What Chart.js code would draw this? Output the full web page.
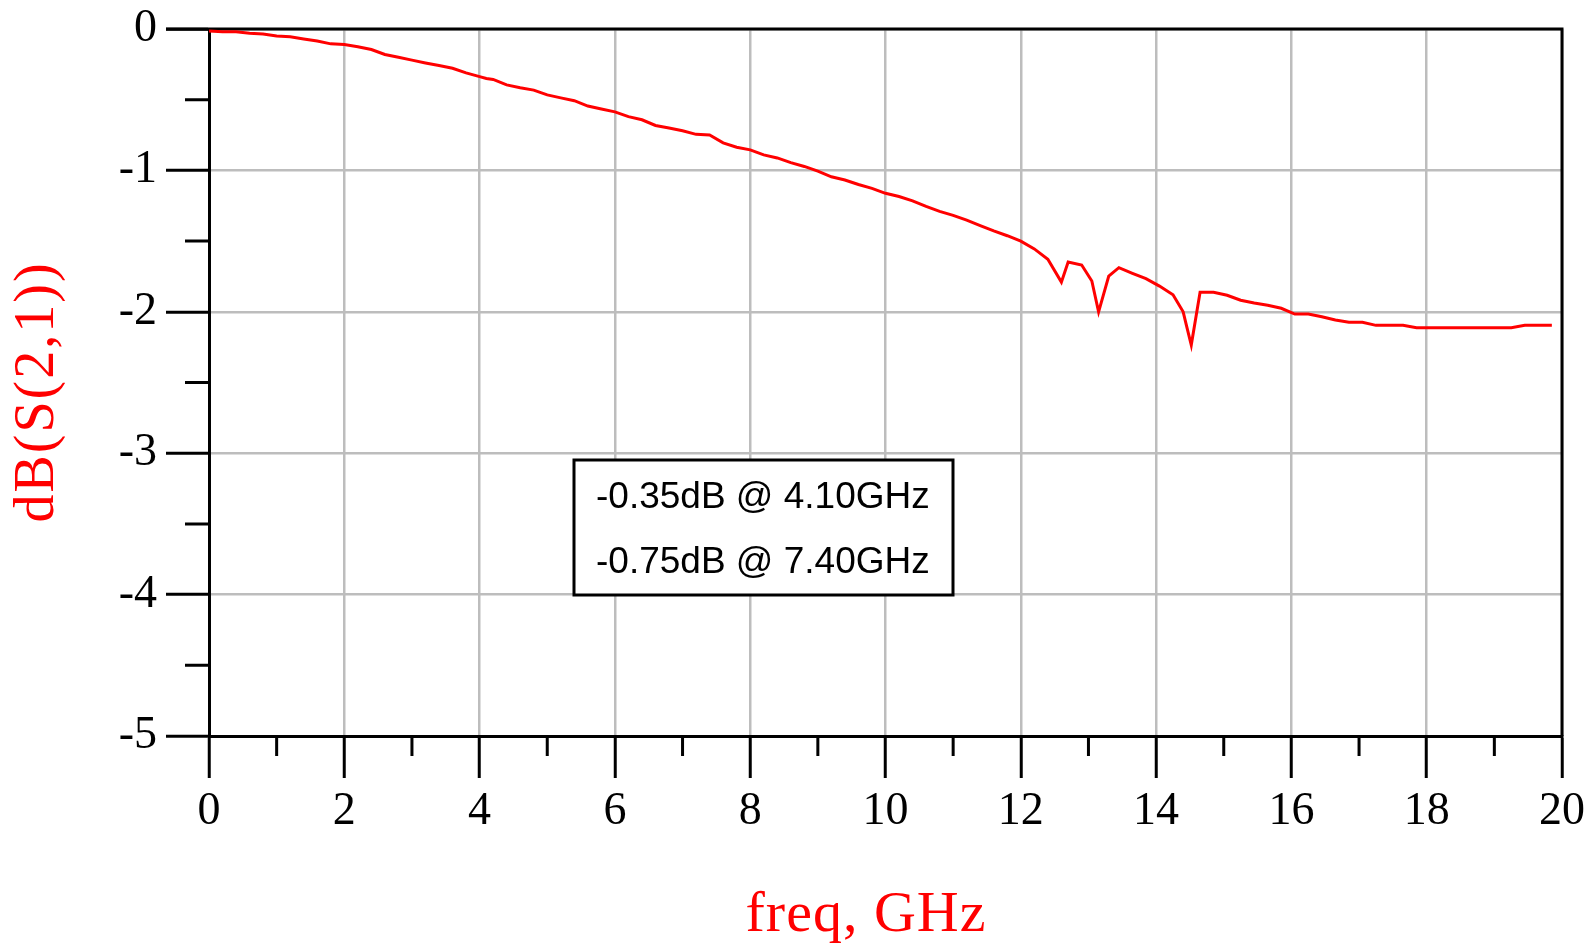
<!DOCTYPE html>
<html>
<head>
<meta charset="utf-8">
<script src="https://cdn.jsdelivr.net/npm/chart.js@4.4.1/dist/chart.umd.min.js"></script>
<style>
  html, body { margin: 0; padding: 0; background: #fff; }
  canvas { display: block; }
</style>
</head>
<body>
<canvas id="s21" width="1593" height="946"></canvas>
<script>
const freq = [
  0, 0.2, 0.4, 0.6, 0.8, 1.0, 1.2, 1.4, 1.6, 1.8,
  2.0, 2.2, 2.4, 2.6, 2.8, 3.0, 3.2, 3.4, 3.6, 3.8,
  4.0, 4.1, 4.2, 4.4, 4.6, 4.8, 5.0, 5.2, 5.4, 5.6, 5.8,
  6.0, 6.2, 6.4, 6.6, 6.8, 7.0, 7.2, 7.4, 7.6, 7.8,
  8.0, 8.2, 8.4, 8.6, 8.8, 9.0, 9.2, 9.4, 9.6, 9.8,
  10.0, 10.2, 10.4, 10.6, 10.8, 11.0, 11.2, 11.4, 11.6, 11.8,
  12.0, 12.2, 12.4, 12.6, 12.7, 12.9, 13.05, 13.15, 13.3, 13.45,
  13.65, 13.85, 14.05, 14.25, 14.4, 14.45, 14.52, 14.65, 14.85,
  15.05, 15.25, 15.45, 15.65, 15.85, 16.05, 16.25, 16.45, 16.65, 16.85,
  17.05, 17.25, 17.45, 17.65, 17.85, 18.05, 18.25, 18.45, 18.65, 18.85,
  19.05, 19.25, 19.45, 19.65, 19.85
];
const s21 = [
  -0.015, -0.02, -0.02, -0.03, -0.035, -0.05, -0.055, -0.07, -0.085, -0.105,
  -0.11, -0.125, -0.145, -0.18, -0.2, -0.22, -0.24, -0.258, -0.278, -0.31,
  -0.337, -0.35, -0.357, -0.395, -0.415, -0.432, -0.466, -0.487, -0.507, -0.545, -0.566,
  -0.586, -0.62, -0.642, -0.682, -0.70, -0.72, -0.745, -0.75, -0.805, -0.836,
  -0.855, -0.89, -0.912, -0.945, -0.972, -1.005, -1.045, -1.068, -1.10, -1.127,
  -1.162, -1.185, -1.215, -1.255, -1.29, -1.318, -1.352, -1.39, -1.428, -1.462,
  -1.50, -1.555, -1.628, -1.79, -1.648, -1.669, -1.782, -2.0, -1.747, -1.688,
  -1.728, -1.766, -1.818, -1.88, -2.0, -2.1, -2.235, -1.862, -1.862,
  -1.883, -1.918, -1.938, -1.954, -1.975, -2.016, -2.016, -2.035, -2.058, -2.074,
  -2.074, -2.096, -2.096, -2.096, -2.112, -2.112, -2.112, -2.112, -2.112, -2.112,
  -2.112, -2.112, -2.096, -2.096, -2.096
];

// Marcadores m1 / m2
const markerFreq = [4.10, 7.40];
const markerDb = [-0.35, -0.75];

// Ticks menores (sem rótulo)
const xMinorTicks = [1, 3, 5, 7, 9, 11, 13, 15, 17, 19];
const yMinorTicks = [-0.5, -1.5, -2.5, -3.5, -4.5];

const serif = '"Liberation Serif", "Times New Roman", serif';
const sans = '"Liberation Sans", Arial, sans-serif';
const gridGray = '#bdbdbd';

// Moldura (topo e direita) + ticks menores
const framePlugin = {
  id: 'frame',
  beforeDatasetsDraw(chart) {
    const { ctx, chartArea: a, scales: { x, y } } = chart;
    ctx.save();
    ctx.strokeStyle = '#000';
    ctx.lineWidth = 3;
    ctx.beginPath();
    ctx.moveTo(a.left - 43, a.top);
    ctx.lineTo(a.right, a.top);
    ctx.lineTo(a.right, a.bottom);
    ctx.stroke();

    ctx.beginPath();
    xMinorTicks.forEach(v => {
      const px = x.getPixelForValue(v);
      ctx.moveTo(px, a.bottom);
      ctx.lineTo(px, a.bottom + 20);
    });
    yMinorTicks.forEach(v => {
      const py = y.getPixelForValue(v);
      ctx.moveTo(a.left - 24, py);
      ctx.lineTo(a.left, py);
    });
    ctx.stroke();
    ctx.restore();
  }
};

// Caixa com as leituras dos marcadores
const markerBox = {
  id: 'markerBox',
  afterDatasetsDraw(chart) {
    const { ctx } = chart;
    ctx.save();
    ctx.fillStyle = '#fff';
    ctx.fillRect(574, 460, 379, 135);
    ctx.strokeStyle = '#000';
    ctx.lineWidth = 3;
    ctx.strokeRect(574, 460, 379, 135);
    ctx.fillStyle = '#000';
    ctx.font = '37px ' + sans;
    ctx.textAlign = 'left';
    ctx.textBaseline = 'middle';
    markerFreq.forEach((f, i) => {
      const txt = markerDb[i].toFixed(2) + 'dB @ ' + f.toFixed(2) + 'GHz';
      ctx.fillText(txt, 596, 498 + i * 65);
    });
    ctx.restore();
  }
};

// Títulos dos eixos
const axisTitles = {
  id: 'axisTitles',
  afterDraw(chart) {
    const { ctx } = chart;
    ctx.save();
    ctx.fillStyle = '#ff0000';
    ctx.textAlign = 'center';
    ctx.textBaseline = 'alphabetic';

    ctx.font = '58px ' + serif;
    ctx.letterSpacing = '1px';
    ctx.fillText('freq, GHz', 866, 931);

    ctx.font = '56px ' + serif;
    ctx.letterSpacing = '2px';
    ctx.translate(53, 392);
    ctx.rotate(-Math.PI / 2);
    ctx.fillText('dB(S(2,1))', 0, 0);
    ctx.restore();
  }
};

new Chart(document.getElementById('s21').getContext('2d'), {
  type: 'line',
  data: {
    datasets: [{
      label: 'dB(S(2,1))',
      data: freq.map((f, i) => ({ x: f, y: s21[i] })),
      borderColor: '#ff0000',
      borderWidth: 3,
      pointRadius: 0,
      tension: 0,
      fill: false
    }]
  },
  options: {
    responsive: false,
    animation: false,
    layout: { padding: { left: 0, right: 31, top: 29, bottom: 0 } },
    plugins: {
      legend: { display: false },
      tooltip: { enabled: false },
      title: { display: false }
    },
    scales: {
      x: {
        type: 'linear',
        min: 0,
        max: 20,
        afterFit: s => { s.height = 210; s.paddingLeft = 0; s.paddingRight = 0; },
        ticks: {
          stepSize: 2,
          color: '#000',
          padding: 6,
          maxRotation: 0,
          font: { family: serif, size: 46 }
        },
        grid: {
          color: gridGray,
          lineWidth: 2.5,
          tickColor: '#000',
          tickWidth: 3,
          tickLength: 42
        },
        border: { color: '#000', width: 3 }
      },
      y: {
        min: -5,
        max: 0,
        afterFit: s => { s.width = 209; s.paddingTop = 0; s.paddingBottom = 0; },
        ticks: {
          stepSize: 1,
          color: '#000',
          padding: 9,
          font: { family: serif, size: 46 },
          callback: v => String(v)
        },
        grid: {
          color: gridGray,
          lineWidth: 2.5,
          tickColor: '#000',
          tickWidth: 3,
          tickLength: 43
        },
        border: { color: '#000', width: 3 }
      }
    }
  },
  plugins: [framePlugin, markerBox, axisTitles]
});
</script>
</body>
</html>
